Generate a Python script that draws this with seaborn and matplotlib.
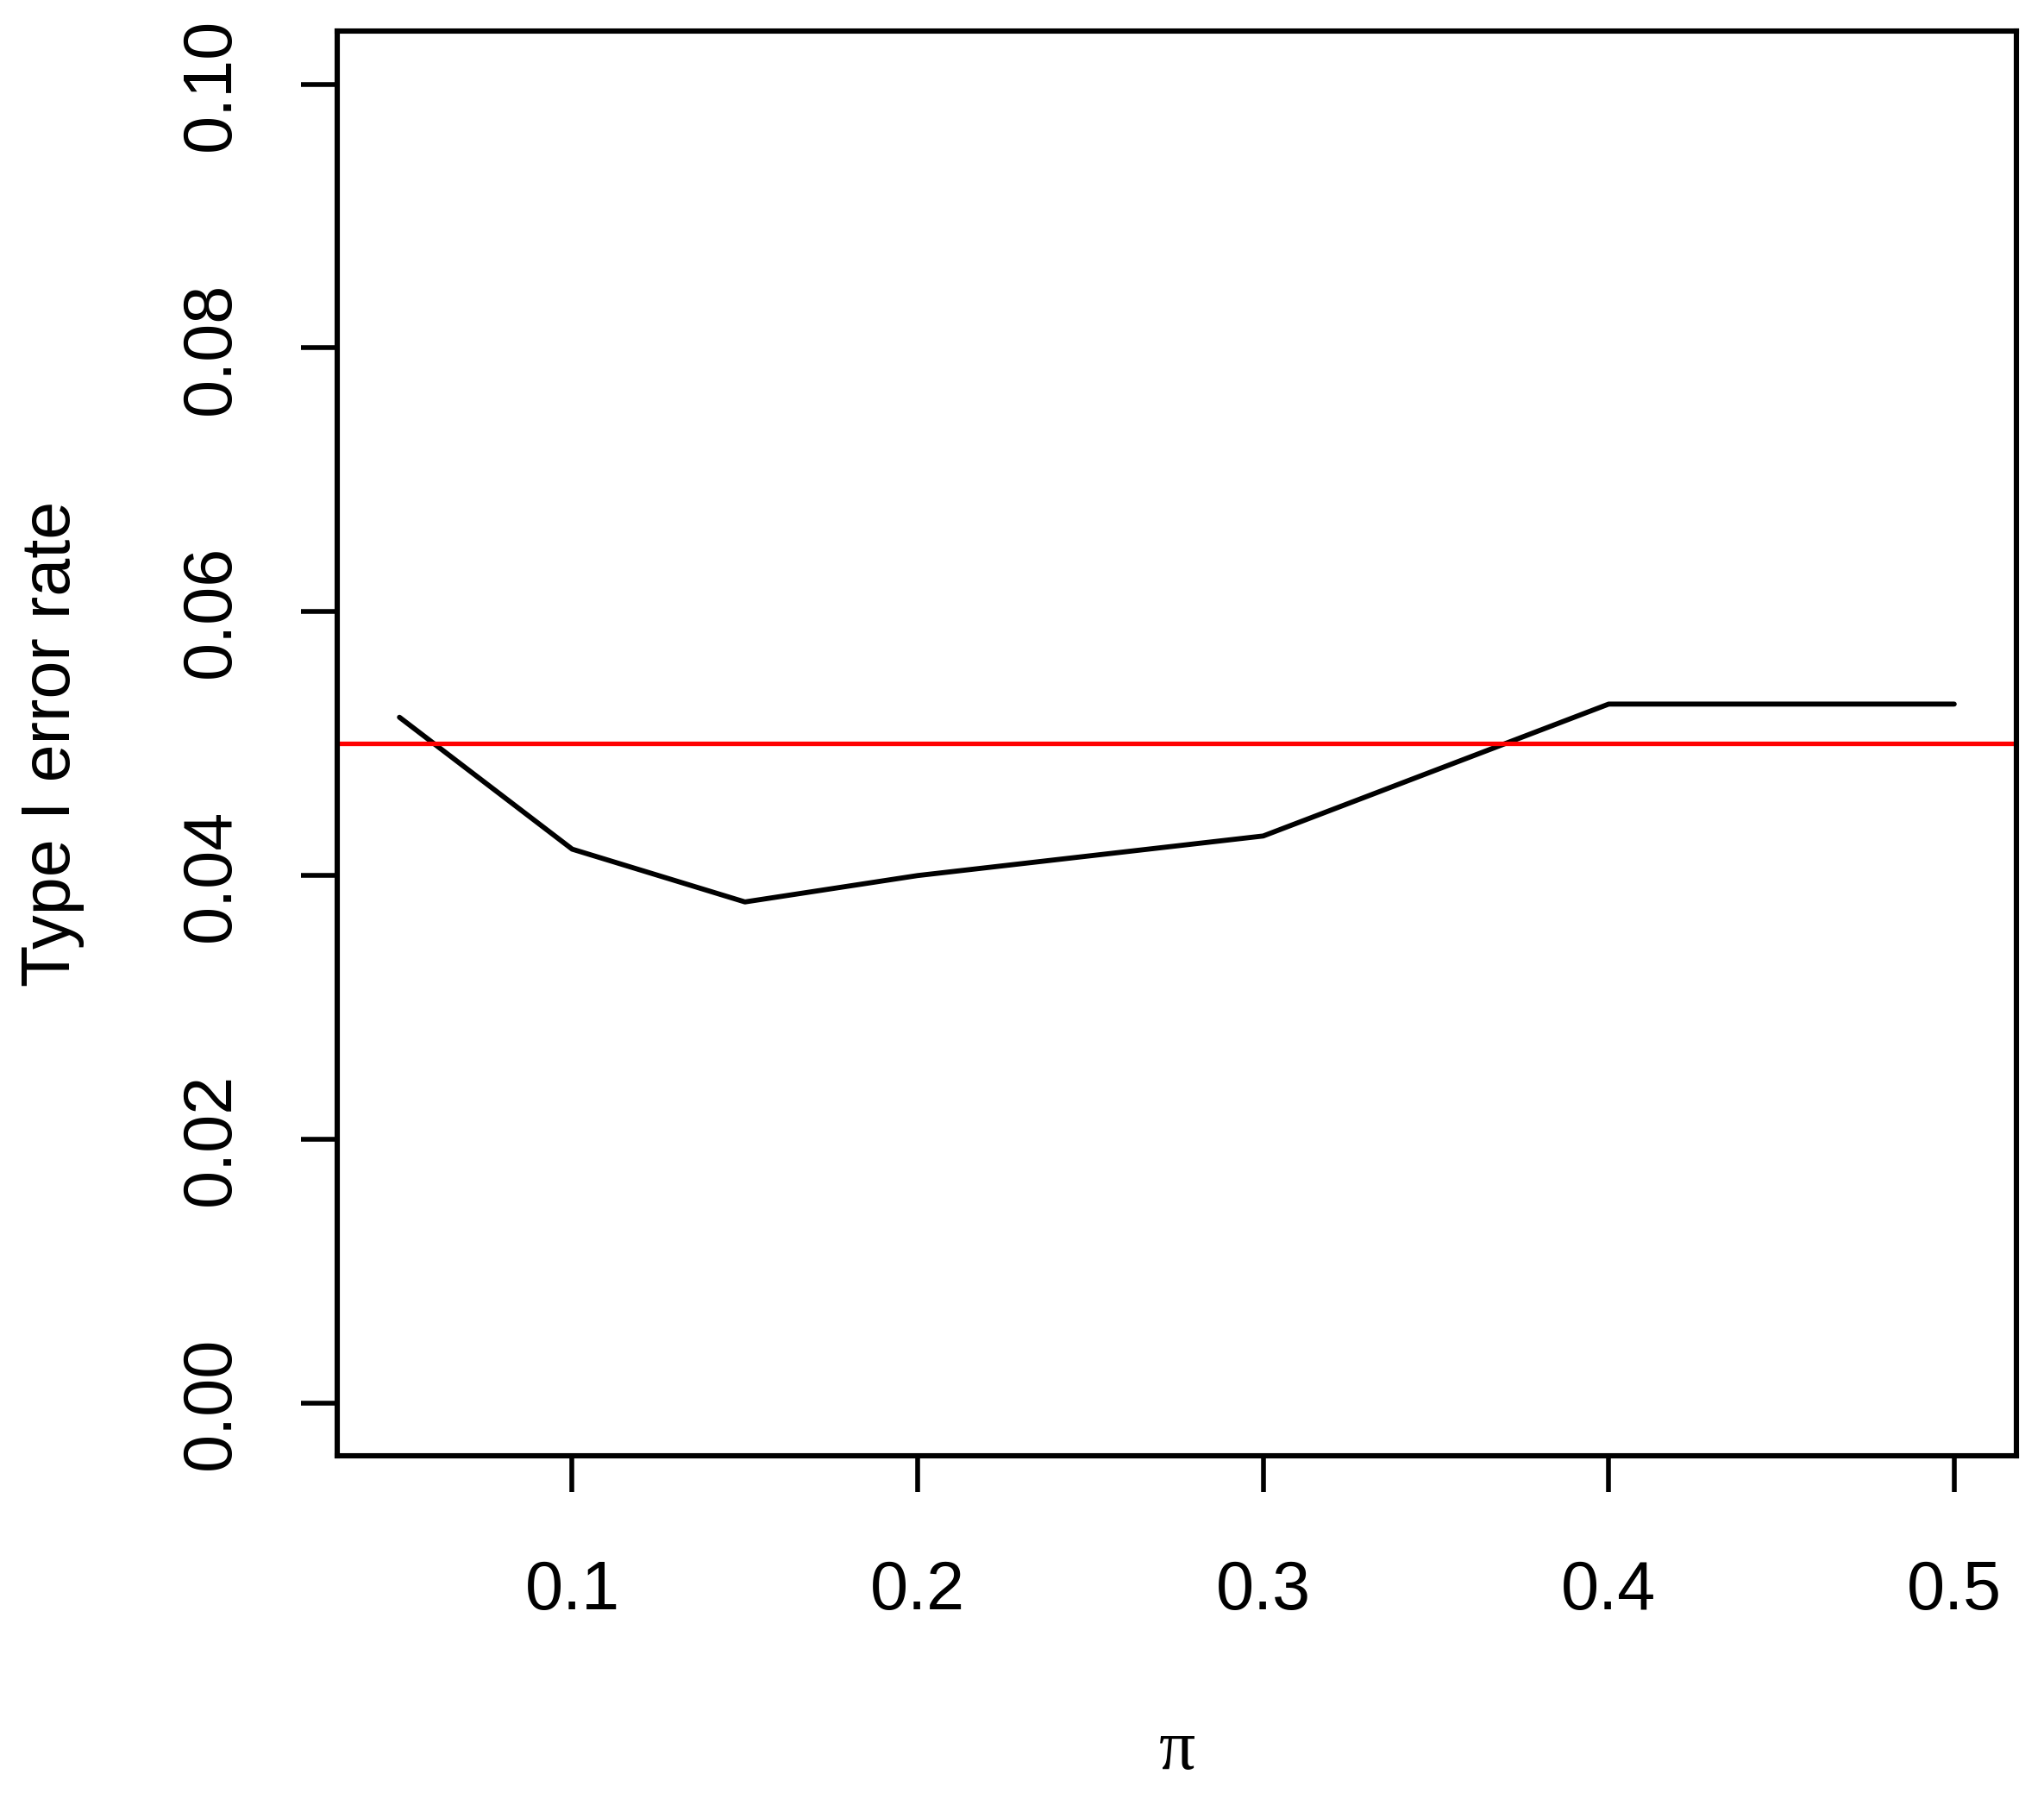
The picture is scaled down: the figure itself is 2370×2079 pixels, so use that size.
import pandas as pd
import matplotlib
matplotlib.use("Agg")
import matplotlib.pyplot as plt
import seaborn as sns

# simulated type I error rate by pi
pi_values = [0.05, 0.10, 0.15, 0.20, 0.30, 0.40, 0.50]
error_rate = [0.052, 0.042, 0.038, 0.040, 0.043, 0.053, 0.053]
alpha_level = 0.05
x_ticks = [0.1, 0.2, 0.3, 0.4, 0.5]
y_ticks = [0.00, 0.02, 0.04, 0.06, 0.08, 0.10]

df = pd.DataFrame({"pi": pi_values, "rate": error_rate})

sns.set_style("ticks")
plt.rcParams['font.family'] = ['Liberation Sans', 'DejaVu Sans']

fig = plt.figure(figsize=(11.85, 10.395), dpi=200)
ax = fig.add_axes([0.165, 0.188, 0.9865 - 0.165, 0.9825 - 0.188])

sns.lineplot(data=df, x="pi", y="rate", color="black", linewidth=2.1, ax=ax)
ax.axhline(alpha_level, color="#ff0000", linewidth=1.9)

# R style 4% padding
ax.set_xlim(0.032, 0.518)
ax.set_ylim(-0.004, 0.104)

ax.set_xticks(x_ticks)
ax.set_xticklabels(["0.1", "0.2", "0.3", "0.4", "0.5"])
ax.set_yticks(y_ticks)
ax.set_yticklabels(["0.00", "0.02", "0.04", "0.06", "0.08", "0.10"],
                   rotation=90, va="center")

ax.tick_params(axis="both", length=15, width=2.0, color="black",
               labelsize=28.5, labelcolor="black")
ax.tick_params(axis="x", pad=28)
ax.tick_params(axis="y", pad=24)

for s in ax.spines.values():
    s.set_visible(True)
    s.set_linewidth(2.2)
    s.set_color("black")

ax.set_xlabel("π", fontsize=30, family=["Liberation Serif", "DejaVu Serif"],
              va="center", color="black")
ax.xaxis.set_label_coords(0.5, -0.208)
ax.set_ylabel("Type I error rate", fontsize=28.5, va="center", color="black")
ax.yaxis.set_label_coords(-0.170, 0.5)

plt.savefig("out.png", dpi=200, facecolor="white")
